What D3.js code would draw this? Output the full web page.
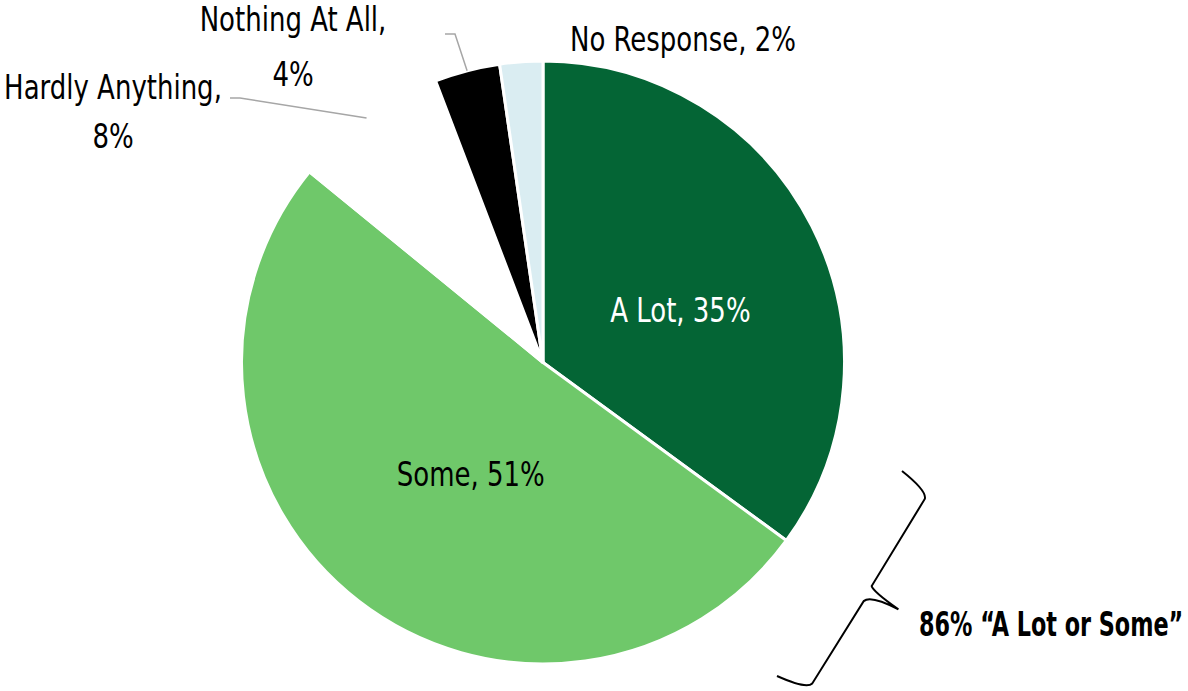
<!DOCTYPE html>
<html>
<head>
	<script src="https://d3js.org/d3.v7.min.js"></script>
	<style>
		body { margin: 0; background: #fff; }
		text { font-family: "DejaVu Sans Condensed", "DejaVu Sans", sans-serif; }
	</style>
</head>
<body>
<svg id="container"></svg>
</body>
<script>
// data
let categories = ['A Lot', 'Some', 'Hardly Anything', 'Nothing At All', 'No Response'];
let shares = [35.05, 50.85, 8.3, 3.5, 2.3];
let colors = ['#046535', '#6fc86a', '#ffffff', '#000000', '#daedf2'];
let bracketLabel = '86% \u201cA Lot or Some\u201d';

// layout
let width = 1188, height = 691;
let cx = 543, cy = 362.5, radius = 301.5;
let fontSize = 34;
let squeeze = 0.85;       // narrow the font to look like a condensed face
let boldSqueeze = 0.73;

let svg = d3.select('#container')
	.attr('width', width)
	.attr('height', height);

let pie = d3.pie().sort(null).value((d) => { return d });
let arcs = pie(shares);

let arc = d3.arc().innerRadius(0).outerRadius(radius);

let pieGroup = svg.append('g')
	.attr('transform', `translate(${cx},${cy})`);

pieGroup.selectAll('path')
	.data(arcs)
	.enter()
	.append('path')
	.attr('d', arc)
	.attr('fill', (d, i) => { return colors[i] })
	.attr('stroke', '#ffffff')
	.attr('stroke-width', 3)
	.attr('stroke-linejoin', 'round');

let labelText = (i) => { return categories[i] + ', ' + Math.round(shares[i]) + '%' };

// text helper: anchored at (x, y) and squeezed horizontally
let addText = function(parent, x, y, str, opts) {
	opts = opts || {};
	return parent.append('text')
		.attr('transform', `translate(${x},${y}) scale(${opts.squeeze || squeeze},1)`)
		.attr('text-anchor', opts.anchor || 'middle')
		.attr('font-size', fontSize)
		.attr('font-weight', opts.weight || 'normal')
		.attr('fill', opts.fill || '#000')
		.text(str);
}

// inside labels (centroid plus a small nudge)
let insideNudge = {0: [3, 28], 1: [20, 4]};
let insideColor = {0: '#ffffff', 1: '#000000'};
Object.keys(insideNudge).forEach((k) => {
	let i = +k;
	let c = arc.centroid(arcs[i]);
	addText(pieGroup, c[0] + insideNudge[i][0], c[1] + insideNudge[i][1], labelText(i), {fill: insideColor[i]});
});

// point on the rim at the middle of a slice
let rimPoint = (i) => {
	let a = (arcs[i].startAngle + arcs[i].endAngle) / 2;
	return [cx + radius * Math.sin(a), cy - radius * Math.cos(a)];
};

// outside labels
let outside = [
	{i: 2, x: 113, y: 99, gap: 49, lines: ['Hardly Anything,', Math.round(shares[2]) + '%'], lead: [[230, 98], [240, 98]]},
	{i: 3, x: 293, y: 31, gap: 55, lines: ['Nothing At All,', Math.round(shares[3]) + '%'], lead: [[445, 34], [455, 34]]},
	{i: 4, x: 683, y: 51, gap: 0, lines: [labelText(4)], lead: null}
];

outside.forEach((o) => {
	o.lines.forEach((s, j) => {
		addText(svg, o.x, o.y + j * o.gap, s);
	});
	if (o.lead) {
		let pts = o.lead.concat([rimPoint(o.i)]);
		svg.append('path')
			.attr('d', d3.line()(pts))
			.attr('fill', 'none')
			.attr('stroke', '#a6a6a6')
			.attr('stroke-width', 1.5);
	}
});

// brace around A Lot + Some
let braceTop = [902, 471], braceBottom = [777, 676];
let bdx = braceBottom[0] - braceTop[0], bdy = braceBottom[1] - braceTop[1];
let bLen = Math.sqrt(bdx * bdx + bdy * bdy);
let bAng = Math.atan2(bdy, bdx) * 180 / Math.PI;
let h = bLen / 2;
let bracePath = `M0,0 Q4,32 12,34 L${h - 6},34 Q${h - 2},38 ${h},69 Q${h + 2},38 ${h + 11},35 L${bLen - 12},34 Q${bLen - 4},32 ${bLen},0`;

svg.append('path')
	.attr('d', bracePath)
	.attr('transform', `translate(${braceTop[0]},${braceTop[1]}) rotate(${bAng}) scale(1,-1)`)
	.attr('fill', 'none')
	.attr('stroke', '#000')
	.attr('stroke-width', 2);

addText(svg, 919, 636, bracketLabel, {anchor: 'start', weight: 'bold', squeeze: boldSqueeze});

</script>
</html>
